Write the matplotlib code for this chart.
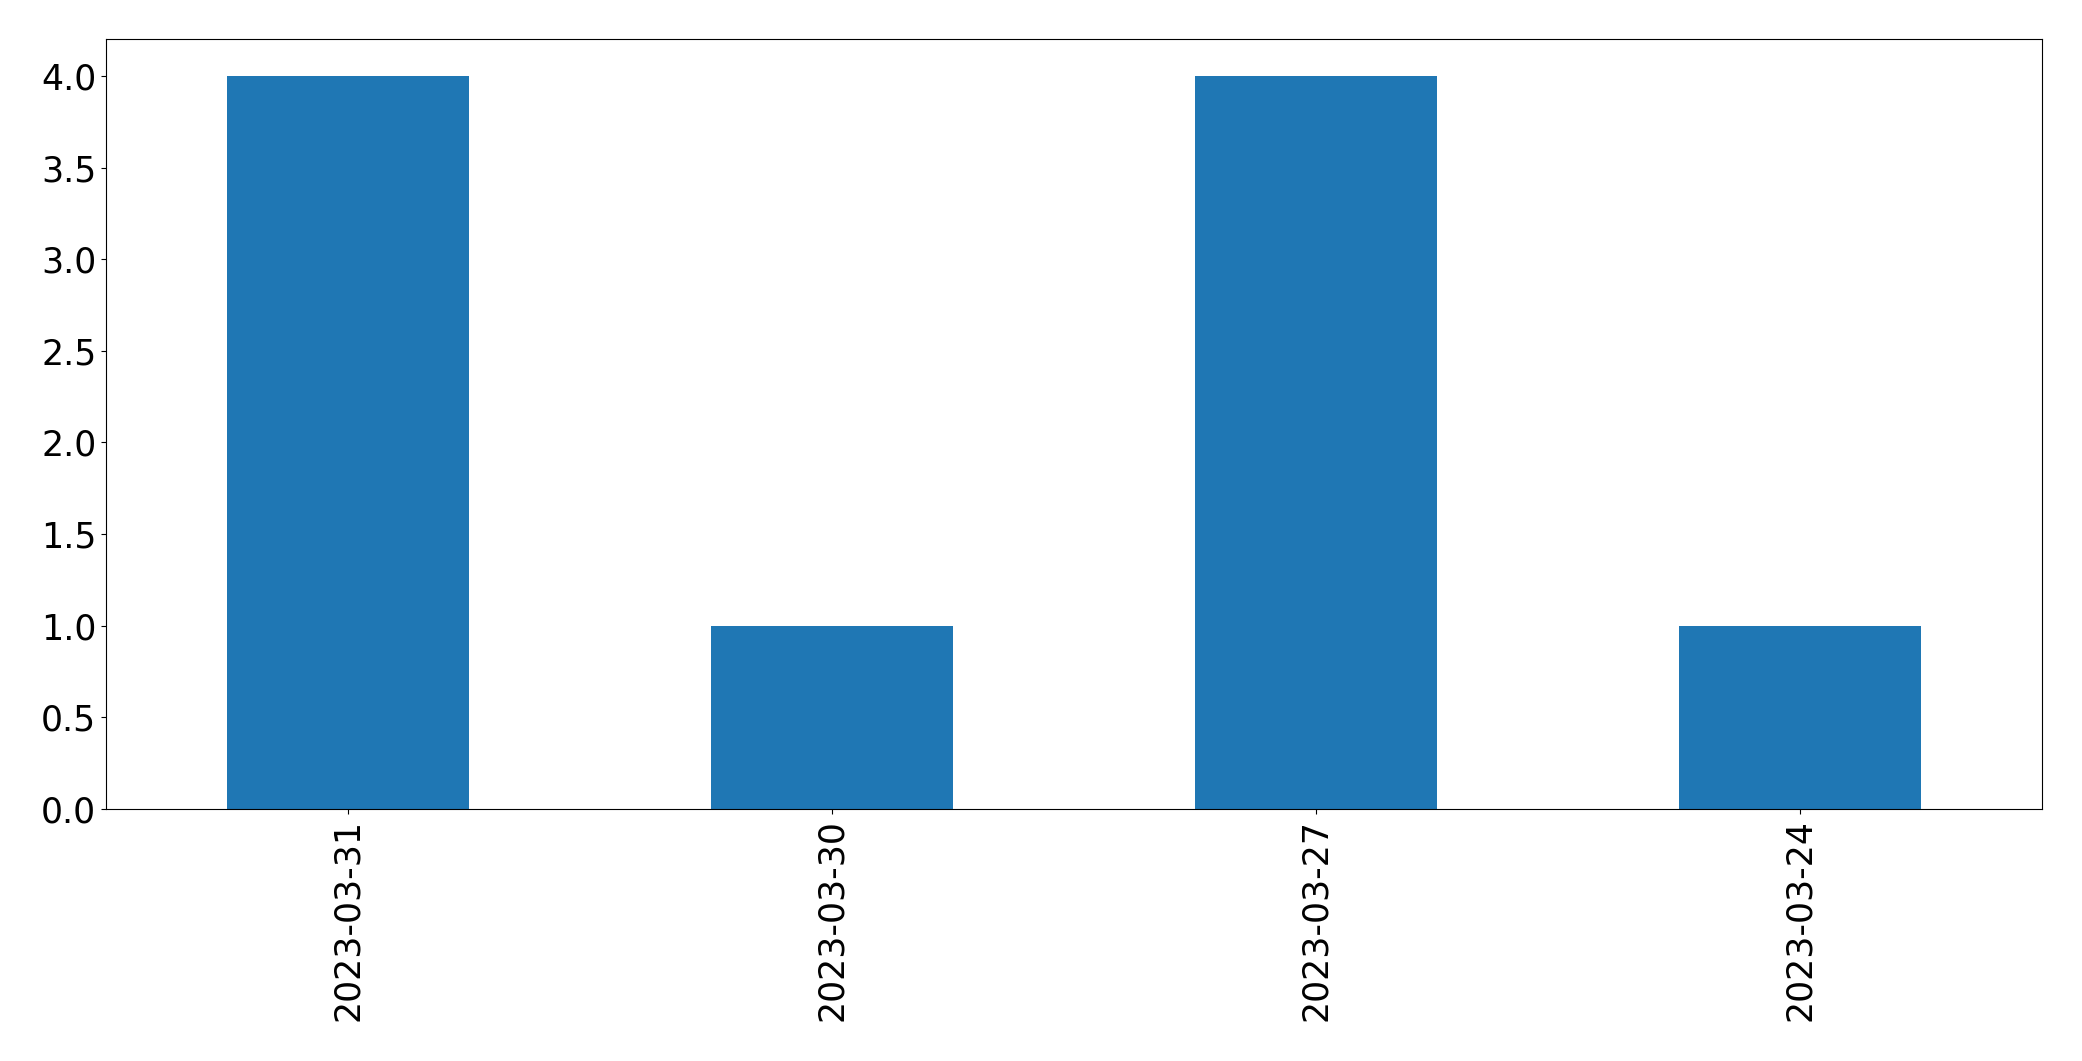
import matplotlib
matplotlib.use("Agg")
import matplotlib.pyplot as plt
import pandas as pd

# counts per date, in the order pandas value_counts gave them
dates = ["2023-03-31", "2023-03-30", "2023-03-27", "2023-03-24"]
counts = [4, 1, 4, 1]

s = pd.Series(counts, index=dates)

fig, ax = plt.subplots(figsize=(20.82, 10.61), dpi=100)
s.plot(kind="bar", ax=ax, fontsize=25)
fig.subplots_adjust(left=0.0509, right=0.981, top=0.963, bottom=0.2375)
fig.savefig("out.png", dpi=100)
